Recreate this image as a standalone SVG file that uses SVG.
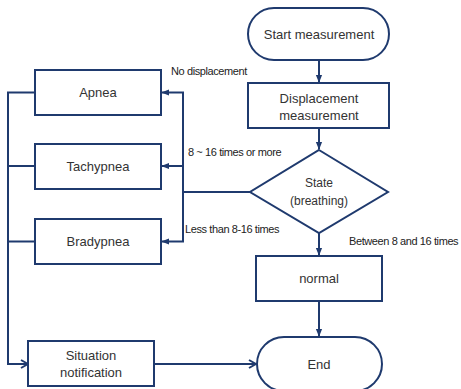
<svg xmlns="http://www.w3.org/2000/svg" width="461" height="389" viewBox="0 0 461 389">
<defs>
<style>
.box{fill:#fff;stroke:#1f3a6e;stroke-width:2}
.ln{fill:none;stroke:#1f3a6e;stroke-width:2}
.t{font-family:"Liberation Sans",Arial,sans-serif;font-size:13px;fill:#333;text-anchor:middle;dominant-baseline:central}
.lb{font-family:"Liberation Sans",Arial,sans-serif;font-size:11px;fill:#222;dominant-baseline:central;letter-spacing:-0.4px}
</style>
<marker id="tri" viewBox="0 0 10 10" refX="9" refY="5" markerWidth="5" markerHeight="5" orient="auto" markerUnits="userSpaceOnUse">
<path d="M0,0 L10,5 L0,10 z" fill="#1f3a6e"/>
</marker>
<marker id="tri2" viewBox="0 0 10 10" refX="9" refY="5" markerWidth="8" markerHeight="8" orient="auto" markerUnits="userSpaceOnUse">
<path d="M0,1 L10,5 L0,9 z" fill="#1f3a6e"/>
</marker>
<marker id="open" viewBox="0 0 10 10" refX="9" refY="5" markerWidth="10" markerHeight="10" orient="auto" markerUnits="userSpaceOnUse">
<path d="M2,1 L9,5 L2,9" fill="none" stroke="#1f3a6e" stroke-width="2"/>
</marker>
</defs>
<rect width="461" height="389" fill="#fff"/>
<g id="connectors">
<line class="ln" x1="319" y1="60" x2="319" y2="82" marker-end="url(#tri2)"/>
<line class="ln" x1="319" y1="128" x2="319" y2="149" marker-end="url(#tri2)"/>
<line class="ln" x1="319" y1="233" x2="319" y2="255" marker-end="url(#tri2)"/>
<line class="ln" x1="319" y1="301" x2="319" y2="336" marker-end="url(#tri2)"/>
<polyline class="ln" points="250,192 183,192"/>
<line class="ln" x1="183" y1="92.5" x2="183" y2="242"/>
<line class="ln" x1="184" y1="92.5" x2="162" y2="92.5" marker-end="url(#tri2)"/>
<line class="ln" x1="184" y1="166" x2="162" y2="166" marker-end="url(#tri2)"/>
<line class="ln" x1="184" y1="241.5" x2="162" y2="241.5" marker-end="url(#tri2)"/>
<polyline class="ln" points="35,92.5 8,92.5 8,364 28,364" marker-end="url(#open)"/>
<line class="ln" x1="8" y1="166" x2="35" y2="166"/>
<line class="ln" x1="8" y1="241.5" x2="35" y2="241.5"/>
<line class="ln" x1="154" y1="364" x2="256" y2="364" marker-end="url(#open)"/>
<text class="lb" x="171" y="71">No displacement</text>
<text class="lb" x="188" y="152">8 ~ 16 times or more</text>
<text class="lb" x="185" y="229">Less than 8-16 times</text>
<text class="lb" x="349" y="241">Between 8 and 16 times</text>
</g>
<g id="start">
<rect class="box" x="248" y="8" width="141" height="52" rx="26"/>
<text class="t" x="319" y="34">Start measurement</text>
</g>
<g id="displacement">
<rect class="box" x="248" y="83" width="141" height="45"/>
<text class="t" x="319" y="98">Displacement</text>
<text class="t" x="319" y="115">measurement</text>
</g>
<g id="state">
<polygon class="box" points="319,150 388,192 319,233 250,192"/>
<text class="t" x="319" y="183" style="font-size:12px">State</text>
<text class="t" x="319" y="201" style="font-size:12px">(breathing)</text>
</g>
<g id="apnea">
<rect class="box" x="35" y="70" width="126" height="45"/>
<text class="t" x="98" y="92.5">Apnea</text>
</g>
<g id="tachypnea">
<rect class="box" x="35" y="144" width="126" height="45"/>
<text class="t" x="98" y="166">Tachypnea</text>
</g>
<g id="bradypnea">
<rect class="box" x="35" y="219" width="126" height="45"/>
<text class="t" x="98" y="241.5">Bradypnea</text>
</g>
<g id="normal">
<rect class="box" x="256" y="256" width="126" height="45"/>
<text class="t" x="319" y="278.5">normal</text>
</g>
<g id="situation">
<rect class="box" x="28" y="341" width="126" height="45"/>
<text class="t" x="91" y="355">Situation</text>
<text class="t" x="91" y="372">notification</text>
</g>
<g id="end">
<rect class="box" x="257" y="337" width="125" height="54" rx="27"/>
<text class="t" x="319" y="364">End</text>
</g>
</svg>
